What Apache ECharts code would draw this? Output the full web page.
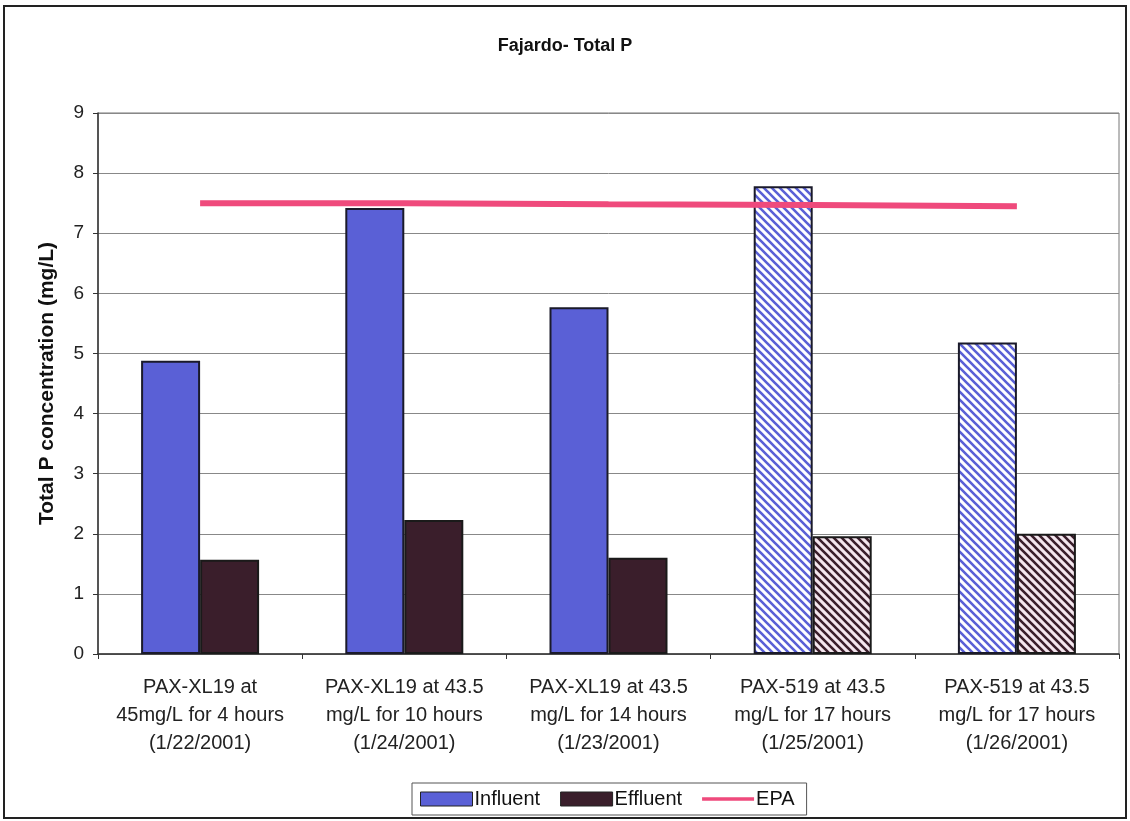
<!DOCTYPE html>
<html><head><meta charset="utf-8">
<script src="https://cdn.jsdelivr.net/npm/echarts@6/dist/echarts.min.js"></script>
<style>html,body{margin:0;padding:0;background:#fff}#c{width:1130px;height:821px}</style>
</head><body><div id="c"></div>
<script>
const categories = [
  "PAX-XL19 at\n45mg/L for 4 hours\n(1/22/2001)",
  "PAX-XL19 at 43.5\nmg/L for 10 hours\n(1/24/2001)",
  "PAX-XL19 at 43.5\nmg/L for 14 hours\n(1/23/2001)",
  "PAX-519 at 43.5\nmg/L for 17 hours\n(1/25/2001)",
  "PAX-519 at 43.5\nmg/L for 17 hours\n(1/26/2001)"
];
const influent = [4.88, 7.42, 5.77, 7.78, 5.18];
const effluent = [1.57, 2.23, 1.60, 1.96, 2.00];
const epa = [7.50, 7.50, 7.48, 7.47, 7.45];
const hatched = [false, false, false, true, true];

function hatch(stripe, bg) {
  const c = document.createElement('canvas');
  c.width = 8; c.height = 8;
  const g = c.getContext('2d');
  g.fillStyle = bg; g.fillRect(0, 0, 8, 8);
  g.strokeStyle = stripe; g.lineWidth = 2.6;
  g.beginPath();
  g.moveTo(-2, -2); g.lineTo(10, 10);
  g.moveTo(-10, -2); g.lineTo(2, 10);
  g.moveTo(6, -2); g.lineTo(18, 10);
  g.stroke();
  return c;
}
const INF = '#5a60d6', EFF = '#3a1e2b', EPA_C = '#ef4a7c';
const infHatch = { image: hatch('#5a60d6', '#ffffff'), repeat: 'repeat' };
const effHatch = { image: hatch('#3a1e2b', '#f4e6ee'), repeat: 'repeat' };

const chart = echarts.init(document.getElementById('c'), null, { renderer: 'canvas' });
const font = 'Liberation Sans, Arial, sans-serif';
chart.setOption({
  animation: false,
  backgroundColor: '#fff',
  textStyle: { fontFamily: font },
  title: {
    text: 'Fajardo- Total P', left: 'center', top: 32,
    textStyle: { fontSize: 18, fontWeight: 'bold', color: '#111', fontFamily: font }
  },
  graphic: [{
    type: 'rect', shape: { x: 4, y: 6, width: 1122, height: 812 },
    style: { fill: 'none', stroke: '#222', lineWidth: 2 }, silent: true
  }],
  legend: {
    bottom: 6, left: 412,
    itemWidth: 52, itemHeight: 14, itemGap: 20,
    padding: [6, 12, 6, 8],
    borderColor: '#555', borderWidth: 1,
    textStyle: { fontSize: 20, color: '#111', fontFamily: font, padding: [0, 0, 0, -3] },
    data: [
      { name: 'Influent', icon: 'rect', itemStyle: { color: INF, borderColor: '#222', borderWidth: 1 } },
      { name: 'Effluent', icon: 'rect', itemStyle: { color: EFF, borderColor: '#222', borderWidth: 1 } },
      { name: 'EPA', icon: 'path://M0,0L0.01,0L0.01,0.01Z M0,5.5L60,5.5L60,9.5L0,9.5Z M0,15L0.01,15L0.01,15.01Z',
        itemStyle: { color: EPA_C, borderWidth: 0 } }
    ]
  },
  grid: { left: 98, right: 11, top: 113, bottom: 167, show: true, borderColor: '#777', borderWidth: 1 },
  xAxis: {
    type: 'category', data: categories,
    axisLine: { lineStyle: { color: '#333', width: 1.5 } },
    axisTick: { show: true, length: 5, lineStyle: { color: '#333' } },
    axisLabel: { fontSize: 20, color: '#222', lineHeight: 28, margin: 19, interval: 0, fontFamily: font }
  },
  yAxis: {
    type: 'value', min: 0, max: 9, interval: 1,
    name: 'Total P concentration (mg/L)', nameLocation: 'middle', nameGap: 40,
    nameTextStyle: { fontSize: 21, fontWeight: 'bold', color: '#111', fontFamily: font },
    axisLine: { show: true, lineStyle: { color: '#333', width: 1.5 } },
    axisTick: { show: true, length: 5, lineStyle: { color: '#333' } },
    axisLabel: { fontSize: 19, color: '#222', margin: 14, fontFamily: font },
    splitLine: { lineStyle: { color: '#888', width: 1 } }
  },
  series: [
    {
      name: 'Influent', type: 'bar', barWidth: 59, barGap: '0%',
      itemStyle: { color: INF, borderColor: '#1a1a2a', borderWidth: 2 },
      data: influent.map((v, i) => hatched[i] ? { value: v, itemStyle: { color: infHatch } } : v)
    },
    {
      name: 'Effluent', type: 'bar', barWidth: 59,
      itemStyle: { color: EFF, borderColor: '#1a1a1a', borderWidth: 2 },
      data: effluent.map((v, i) => hatched[i] ? { value: v, itemStyle: { color: effHatch } } : v)
    },
    {
      name: 'EPA', type: 'line', data: epa, symbol: 'none', z: 5,
      lineStyle: { color: EPA_C, width: 6 }, itemStyle: { color: EPA_C }
    }
  ]
});
</script></body></html>
